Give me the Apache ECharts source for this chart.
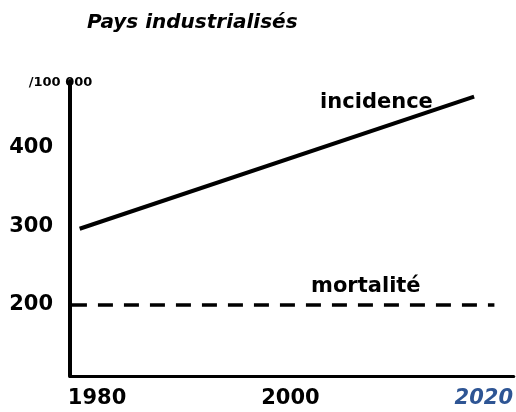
<!DOCTYPE html>
<html>
<head>
<meta charset="utf-8">
<script src="https://cdn.jsdelivr.net/npm/echarts@6/dist/echarts.min.js"></script>
<style>
  html, body { margin: 0; padding: 0; background: #fff; }
  #chart { width: 516px; height: 412px; }
</style>
</head>
<body>
<div id="chart"></div>
<script>
// values
const xTicks = [1980, 2000, 2020];
const yTicks = [200, 300, 400];
const incidenceYears = [1978.2, 2019];
const incidenceValues = [297, 465];
const mortaliteYears = [1977.4, 2021.1];
const mortaliteValues = [200, 200];

const pairs = (xs, ys) => xs.map((x, i) => [x, ys[i]]);

var chart = echarts.init(document.getElementById("chart"));

const labelStyle = {
  show: true,
  position: "inside",
  fontFamily: "DejaVu Sans",
  fontWeight: "bold",
  fontSize: 21,
  color: "#000",
};

const option = {
  animation: false,
  title: {
    text: "Pays industrialisés",
    left: 82,
    top: 8,
    textStyle: {
      fontFamily: "DejaVu Sans",
      fontStyle: "italic",
      fontWeight: "bold",
      fontSize: 20,
      color: "#000",
    },
  },
  grid: { left: 70, right: 0, top: 81, bottom: 36 },
  xAxis: {
    type: "value",
    min: 1977.2,
    max: 2023.1,
    splitLine: { show: false },
    axisLine: { lineStyle: { color: "#000", width: 3 } },
    axisTick: { show: false },
    axisLabel: {
      customValues: xTicks,
      margin: 12,
      fontFamily: "DejaVu Sans",
      fontWeight: "bold",
      fontSize: 21,
      color: "#000",
      formatter: (v) => (v === 2020 ? "{b|" + v + "}" : String(v)),
      rich: {
        b: {
          color: "#2e5594",
          fontStyle: "italic",
          fontWeight: "bold",
          fontFamily: "DejaVu Sans",
          fontSize: 21,
        },
      },
    },
  },
  yAxis: {
    type: "value",
    min: 109.6,
    max: 485,
    name: "/100 000",
    nameLocation: "end",
    nameGap: -8,
    nameTextStyle: {
      fontFamily: "DejaVu Sans",
      fontWeight: "bold",
      fontSize: 13,
      color: "#000",
      align: "center",
      padding: [0, 0, 0, -19],
    },
    splitLine: { show: false },
    axisLine: { show: true, lineStyle: { color: "#000", width: 4 } },
    axisTick: { show: false },
    axisLabel: {
      customValues: yTicks,
      margin: 17,
      fontFamily: "DejaVu Sans",
      fontWeight: "bold",
      fontSize: 21,
      color: "#000",
    },
  },
  series: [
    {
      name: "incidence",
      type: "line",
      data: pairs(incidenceYears, incidenceValues),
      symbol: "none",
      lineStyle: { color: "#000", width: 4 },
      markPoint: {
        symbol: "circle",
        symbolSize: 1,
        itemStyle: { color: "rgba(0,0,0,0)" },
        data: [{ coord: [2008.9, 457], value: "incidence" }],
        label: Object.assign({ formatter: "incidence" }, labelStyle),
      },
    },
    {
      name: "mortalité",
      type: "line",
      data: pairs(mortaliteYears, mortaliteValues),
      symbol: "none",
      lineStyle: { color: "#000", width: 3.5, type: [15, 11] },
      markPoint: {
        symbol: "circle",
        symbolSize: 1,
        itemStyle: { color: "rgba(0,0,0,0)" },
        data: [{ coord: [2007.8, 224], value: "mortalité" }],
        label: Object.assign({ formatter: "mortalité" }, labelStyle),
      },
    },
  ],
};

chart.setOption(option);
</script>
</body>
</html>
